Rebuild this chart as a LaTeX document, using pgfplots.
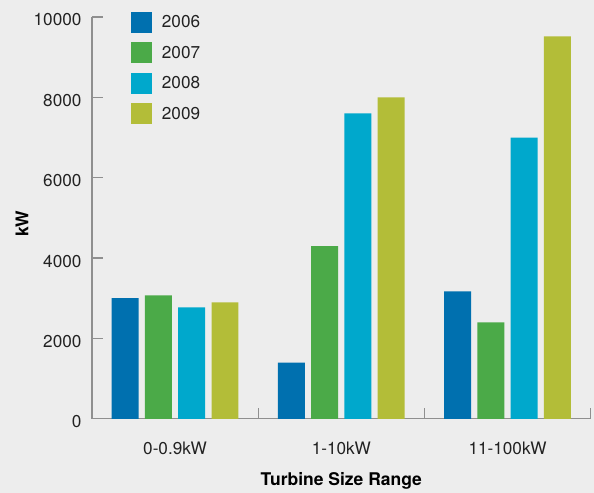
\documentclass[border=0pt]{standalone}
\usepackage{fontspec}
\setmainfont{TeX Gyre Heros}
\usepackage{pgfplots}
\usepackage{pgfplotstable}
\pgfplotsset{compat=1.18}
\usetikzlibrary{calc,backgrounds}

\definecolor{bg}{HTML}{EDEDED}
\definecolor{axisgray}{HTML}{8F8F8F}
\definecolor{txt}{HTML}{222222}
\definecolor{cA}{HTML}{0070AF}
\definecolor{cB}{HTML}{4BAA48}
\definecolor{cC}{HTML}{00A8CC}
\definecolor{cD}{HTML}{B3BD38}

% installed capacity (kW) per turbine size range and year
\pgfplotstableread{
x y2006 y2007 y2008 y2009
0 3000 3070 2770 2900
1 1400 4300 7600 8000
2 3170 2400 7000 9520
}\turbines

\begin{document}
\begin{tikzpicture}
\begin{axis}[
  name=ax,
  scale only axis, width=499bp, height=402bp,
  xmin=-0.5, xmax=2.5, ymin=0, ymax=10000,
  axis lines*=left,
  axis line style={axisgray, line width=1.2bp},
  ybar=6.3bp, bar width=27bp,
  xtick={0.5,1.5,2.5}, xticklabels={},
  extra x ticks={0,1,2},
  extra x tick labels={0-0.9kW,1-10kW,11-100kW},
  extra x tick style={major tick length=0pt},
  ytick={0,2000,...,10000},
  scaled y ticks=false,
  tick style={axisgray, line width=1.2bp},
  tick align=inside, major tick length=11bp,
  tick label style={font=\fontsize{17.2bp}{20bp}\selectfont, text=txt},
  xticklabel style={anchor=center, yshift=-30bp},
  yticklabel style={anchor=east, xshift=-7bp, yshift=-3bp,
    /pgf/number format/1000 sep={}, /pgf/number format/assume math mode=true},
  xlabel={Turbine Size Range}, ylabel={kW},
  every axis x label/.style={at={(axis description cs:0.5,0)}, anchor=center,
    yshift=-62bp, font=\bfseries\fontsize{17.5bp}{21bp}\selectfont, text=black},
  every axis y label/.style={at={(axis description cs:0,0.5)}, rotate=90,
    anchor=center, yshift=70bp, xshift=-6bp,
    font=\bfseries\fontsize{17.5bp}{21bp}\selectfont, text=black},
  legend style={at={(axis description cs:0,1)}, anchor=north west,
    xshift=39bp, yshift=5bp, draw=none, fill=none, inner sep=0pt, outer sep=0pt,
    row sep=9.5bp, font=\fontsize{17.2bp}{20bp}\selectfont, text=txt,
    nodes={inner sep=0pt}},
  legend cell align=left,
  legend image code/.code={\fill[#1] (0bp,-10.5bp) rectangle (21bp,10.5bp); \path (31bp,0bp);},
]
\addplot[fill=cA, draw=none] table[x=x, y=y2006] {\turbines};
\addplot[fill=cB, draw=none] table[x=x, y=y2007] {\turbines};
\addplot[fill=cC, draw=none] table[x=x, y=y2008] {\turbines};
\addplot[fill=cD, draw=none] table[x=x, y=y2009] {\turbines};
\legend{2006,2007,2008,2009}
\end{axis}
\begin{scope}[on background layer]
\fill[bg] ($(ax.south west)+(-92bp,-74bp)$) rectangle ($(ax.north east)+(3bp,17bp)$);
\end{scope}
\end{tikzpicture}
\end{document}
